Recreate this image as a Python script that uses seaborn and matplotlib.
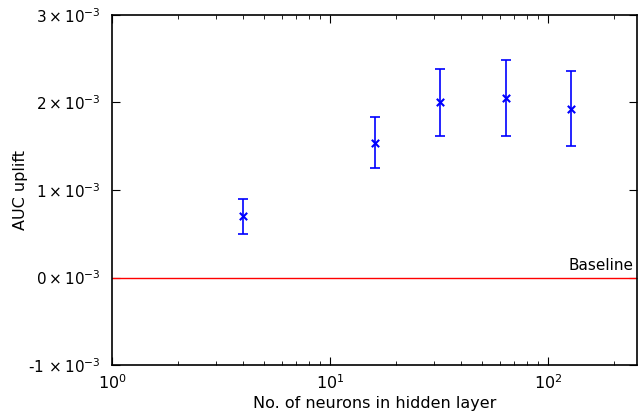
import matplotlib
matplotlib.use("Agg")
import matplotlib.pyplot as plt
import seaborn as sns
import pandas as pd

neurons = [4, 16, 32, 64, 128]
uplift = [0.70e-3, 1.54e-3, 2.00e-3, 2.05e-3, 1.93e-3]
err = [0.20e-3, 0.29e-3, 0.385e-3, 0.435e-3, 0.43e-3]
ytick_vals = [-1e-3, 0, 1e-3, 2e-3, 3e-3]
ytick_labels = ["-1$\\,\\times10^{-3}$", "$0\\times10^{-3}$", "$1\\times10^{-3}$",
                "$2\\times10^{-3}$", "$3\\times10^{-3}$"]

sns.set_style("ticks")
plt.rcParams["font.family"] = ["DejaVu Sans"]
plt.rcParams["mathtext.default"] = "regular"
for key in ["text.color", "axes.labelcolor", "xtick.color", "ytick.color"]:
    plt.rcParams[key] = "black"

df = pd.DataFrame({"neurons": neurons, "uplift": uplift, "err": err})

fig = plt.figure(figsize=(6.44, 4.15), dpi=100)
ax = fig.add_axes([112 / 644, 50 / 415, 525 / 644, 350 / 415])

ax.axhline(0, color="red", lw=1)
ax.text(0.993, 0.262, "Baseline", transform=ax.transAxes,
        ha="right", va="bottom", fontsize=11)

ax.errorbar(df["neurons"], df["uplift"], yerr=df["err"], fmt="none",
            ecolor="blue", elinewidth=1.2, capsize=3.5, capthick=1.2)
sns.scatterplot(data=df, x="neurons", y="uplift", marker="x", color="blue",
                s=28, linewidth=1.5, ax=ax, zorder=3)

ax.set_xscale("log")
ax.set_xlim(1, 256)
ax.set_ylim(-1e-3, 3e-3)
ax.set_yticks(ytick_vals)
ax.set_yticklabels(ytick_labels)
ax.set_xlabel("No. of neurons in hidden layer", fontsize=11.5, labelpad=3)
ax.set_ylabel("AUC uplift", fontsize=11.5)
ax.yaxis.set_label_coords(-0.16, 0.5)

ax.tick_params(which="both", direction="in", top=True, right=True, labelsize=11)
ax.tick_params(which="major", length=6, pad=8)
ax.tick_params(which="minor", length=3)
ax.tick_params(axis="x", which="major", labelsize=11.5, pad=6)
for sp in ax.spines.values():
    sp.set_linewidth(1.2)
    sp.set_color("black")

fig.savefig("out.png", dpi=100)
